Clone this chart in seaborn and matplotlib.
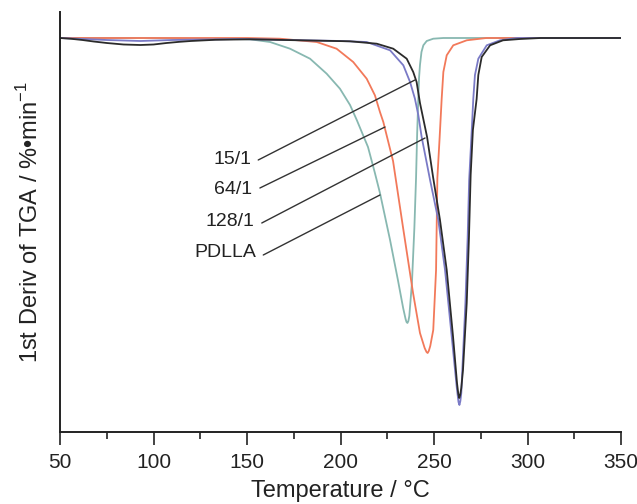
import matplotlib
matplotlib.use("Agg")
import matplotlib.pyplot as plt
from matplotlib.ticker import MultipleLocator
import seaborn as sns
import pandas as pd

# ---- data (y in arbitrary DTG units, 0 = baseline) ----
t_151 = [50, 56, 62, 68, 75, 84, 93, 100, 107, 114, 120, 133, 151.6, 205.1, 219.4, 228.2,
         235.4, 238.9, 240.7, 242.5, 246.3, 249.5, 253.2, 256.8, 260.2, 262.3, 263.0,
         263.5, 264.0, 264.6, 265.5, 267.5, 268.7, 269.6, 270.8, 272.8, 273.7, 275.5,
         280, 286.9, 296, 307, 350]
v_151 = [0, -0.8, -2, -3.5, -5, -6.5, -7, -6.5, -5, -3.8, -3, -1.8, -1.3, -3.3, -5.7, -10.7,
         -20.7, -34, -44, -65, -99, -139, -182, -232, -299, -345, -356,
         -360, -357, -350, -332, -265, -199, -137, -92, -61, -37, -19,
         -7.3, -2.3, -1, 0, 0]

t_641 = [50, 150, 167.6, 187.3, 197.9, 206.8, 214.0, 218.4, 221.1, 222.9, 228.1, 233.4,
         238.8, 242.5, 245.0, 246.0, 246.6, 247.2, 248.0, 249.6, 251.1, 251.8, 253.0,
         254.1, 255.0, 256.8, 260.3, 267.5, 278, 350]
v_641 = [0, 0, -0.7, -4, -10.7, -24, -40.7, -57.3, -74, -84, -123, -189,
         -255, -295, -310, -314, -315, -313, -308, -292, -232, -140, -100,
         -61, -34, -17.3, -7.3, -2.3, 0, 0]

t_1281 = [50, 75, 93, 110, 146, 200, 214.0, 226.5, 233.6, 237.2, 239.8, 241.6, 243.4, 247.9,
          252.3, 255.9, 259.5, 262.2, 263.1, 263.6, 264.1, 264.6, 265.2, 266.8, 268.0,
          268.8, 270.2, 271.0, 271.9, 273.7, 278.2, 285.3, 294.2, 350]
v_1281 = [0, -2, -3, -2, -1, -3, -4, -12.3, -27.3, -44, -60.7, -77, -99, -142,
          -182, -232, -299, -350, -364, -367, -363, -355, -330, -265, -199,
          -142, -92, -61, -37, -20.7, -7.3, -2.3, 0, 0]

t_pdlla = [50, 100, 151.6, 162.3, 173.0, 183.7, 192.6, 199.7, 205.1, 208.7, 214.7,
           218.4, 221.1, 226.5, 230.7, 233.5, 234.8, 235.3, 235.8, 236.3, 236.8, 238.2,
           239.5, 240.4, 241.0, 241.6, 242.0, 242.5, 243.3, 244.3, 246.1, 249.6, 255, 350]
v_pdlla = [0, 0, -1.3, -4, -10.7, -20.7, -35.7, -50.7, -67, -82, -109,
           -135, -155, -202, -242, -270, -281, -284, -285, -283, -278, -245,
           -190, -140, -95, -61, -40, -27, -14, -7.3, -3, -0.7, 0, 0]

series_names = ["15/1", "64/1", "128/1", "PDLLA"]
x_ticks = [50, 100, 150, 200, 250, 300, 350]

# label anchor / leader geometry (layout)
label_text_pos = [(152.5, -122), (153.0, -152), (154.2, -184), (155.1, -215)]
leader_start = [(156.0, -122), (156.9, -150), (157.9, -185), (158.7, -217)]
leader_end = [(239.8, -42), (223.8, -89), (245.2, -100), (221.1, -157)]

colors = {"15/1": "#2b2b2b", "64/1": "#f2795a", "128/1": "#7a7ac6", "PDLLA": "#88b8b1"}

frames = []
for name, t, v in zip(series_names, [t_151, t_641, t_1281, t_pdlla],
                      [v_151, v_641, v_1281, v_pdlla]):
    frames.append(pd.DataFrame({"T": t, "dtg": v, "sample": name}))
df = pd.concat(frames, ignore_index=True)

sns.set_style("white")
plt.rcParams["font.family"] = ["Liberation Sans", "DejaVu Sans"]
plt.rcParams["mathtext.fontset"] = "custom"
plt.rcParams["mathtext.rm"] = "Liberation Sans"

fig = plt.figure(figsize=(6.37, 5.04), dpi=100)
ax = fig.add_axes([60 / 637, 1 - 432 / 504, (621 - 60) / 637, (432 - 12) / 504])

draw_order = ["PDLLA", "64/1", "128/1", "15/1"]
for name in draw_order:
    sub = df[df["sample"] == name]
    sns.lineplot(data=sub, x="T", y="dtg", ax=ax, color=colors[name], lw=1.3,
                 sort=False, estimator=None, legend=False)

for name, tp, ls, le in zip(series_names, label_text_pos, leader_start, leader_end):
    ax.text(tp[0], tp[1], name, ha="right", va="center", fontsize=14, color="#222222")
    ax.plot([ls[0], le[0]], [ls[1], le[1]], color="#333333", lw=1.0)

ax.set_xlim(50, 350)
ax.set_ylim(-394, 26)
ax.set_xticks(x_ticks)
ax.set_xticklabels([str(x) for x in x_ticks])
ax.xaxis.set_minor_locator(MultipleLocator(25))
ax.set_yticks([])
ax.tick_params(axis="x", which="major", direction="out", length=9, width=1.2,
               labelsize=15, pad=6, bottom=True, colors="#222222")
ax.tick_params(axis="x", which="minor", direction="out", length=5, width=1.2, bottom=True,
               colors="#222222")
for s in ["top", "right"]:
    ax.spines[s].set_visible(False)
for s in ["left", "bottom"]:
    ax.spines[s].set_color("#222222")
    ax.spines[s].set_linewidth(1.4)

ax.set_xlabel("Temperature / °C", fontsize=17, labelpad=6, color="#222222")
ax.set_ylabel(r"1st Deriv of TGA / %•min$^{\mathregular{-1}}$", fontsize=17,
              labelpad=12, color="#222222")

fig.savefig("out.png", dpi=100, facecolor="white")
